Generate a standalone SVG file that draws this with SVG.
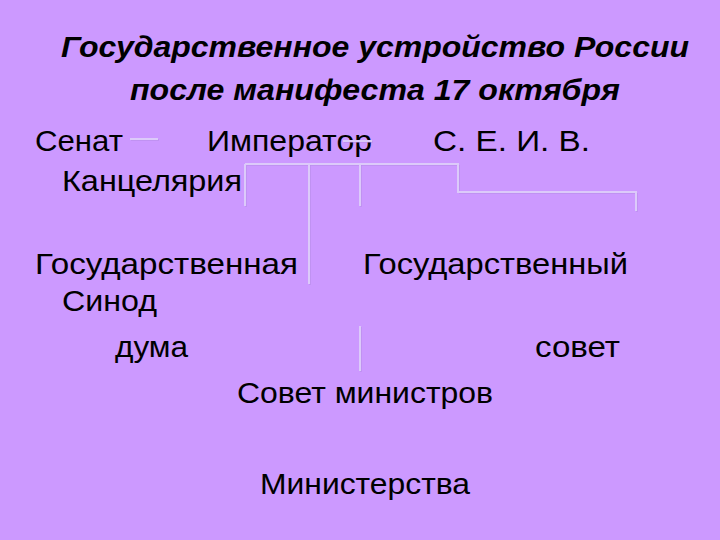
<svg xmlns="http://www.w3.org/2000/svg" width="720" height="540" viewBox="0 0 720 540">
<style>
.t{font-family:"Liberation Sans",Arial,sans-serif;font-size:30px;fill:#000}
.h{font-family:"Liberation Sans",Arial,sans-serif;font-size:30px;font-weight:bold;font-style:italic;fill:#000}
.c{fill:none;stroke:#DCCAFA;stroke-width:2}
.s{fill:none;stroke:#B48BE6;stroke-width:1}
</style>
<rect width="720" height="540" fill="#CC99FF"/>
<g id="title">
<text class="h" x="375" y="57" text-anchor="middle" textLength="628" lengthAdjust="spacingAndGlyphs">Государственное устройство России</text>
<text class="h" x="375" y="100" text-anchor="middle" textLength="490" lengthAdjust="spacingAndGlyphs">после манифеста 17 октября</text>
</g>
<g id="senat"><text class="t" x="35" y="151" textLength="88" lengthAdjust="spacingAndGlyphs">Сенат</text></g>
<g id="imperator"><text class="t" x="207" y="151" textLength="165" lengthAdjust="spacingAndGlyphs">Император</text></g>
<g id="seiv"><text class="t" x="433" y="151" textLength="157" lengthAdjust="spacingAndGlyphs">С. Е. И. В.</text></g>
<g id="kancelyaria"><text class="t" x="62" y="191" textLength="180" lengthAdjust="spacingAndGlyphs">Канцелярия</text></g>
<g id="gosduma"><text class="t" x="35" y="274" textLength="263" lengthAdjust="spacingAndGlyphs">Государственная</text><text class="t" x="115" y="357" textLength="73" lengthAdjust="spacingAndGlyphs">дума</text></g>
<g id="gossovet"><text class="t" x="363" y="274" textLength="265" lengthAdjust="spacingAndGlyphs">Государственный</text><text class="t" x="535" y="357" textLength="85" lengthAdjust="spacingAndGlyphs">совет</text></g>
<g id="sinod"><text class="t" x="62" y="311" textLength="95" lengthAdjust="spacingAndGlyphs">Синод</text></g>
<g id="sovmin"><text class="t" x="237" y="403" textLength="256" lengthAdjust="spacingAndGlyphs">Совет министров</text></g>
<g id="ministerstva"><text class="t" x="260" y="494" textLength="210" lengthAdjust="spacingAndGlyphs">Министерства</text></g>
<g id="connectors">
<path class="s" d="M131,140 H159 M246,165 V207 M247,165 H362 M310,165 V285 M361,165 V207 M362,165 H459 V193 H637 V212 M361,327 V372 M344,142 H373"/>
<path class="c" d="M130,139 H158 M245,164 V206 M245,164 H360 M309,164 V284 M360,164 V206 M360,164 H458 V192 H636 V211 M360,326 V371 M343,141 H372"/>
</g>
</svg>
